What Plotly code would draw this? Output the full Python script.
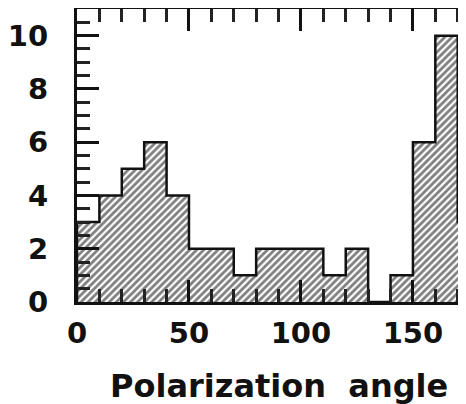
import plotly.graph_objects as go

# Data: histogram of polarization angle (deg), 10-degree bins
bin_left = [0, 10, 20, 30, 40, 50, 60, 70, 80, 90, 100, 110, 120, 130, 140, 150, 160, 170]
counts = [3, 4, 5, 6, 4, 2, 2, 1, 2, 2, 2, 1, 2, 0, 1, 6, 10, 3]
bin_width = 10
x_ticks = [0, 50, 100, 150]
y_ticks = [0, 2, 4, 6, 8, 10]
x_title = "Polarization\u00a0 angle"

W, H = 466, 404
OFF = 8                                         # page body margin offset
L, T, B, R = 77 - OFF, 9 - OFF, H - (302 - OFF), OFF
x_max_full = bin_left[-1] + bin_width          # 180, true right border (cropped)
x_vis = 173.7                                   # visible part of the axis
plot_w = W - L - R
px_per_unit = plot_w / x_vis

centers = [b + bin_width / 2 for b in bin_left]

# step outline
sx = [bin_left[0]] + bin_left + [x_max_full, x_max_full]
sy = [0] + counts + [counts[-1], 0]

fig = go.Figure()
fig.add_trace(go.Bar(
    x=centers, y=counts, width=bin_width,
    marker=dict(color="white", line=dict(width=0),
                pattern=dict(shape="/", fgcolor="black", bgcolor="white",
                             size=5, solidity=0.55)),
    showlegend=False, hoverinfo="skip",
))
fig.add_trace(go.Scatter(
    x=sx, y=sy, mode="lines", line=dict(color="#111", width=2.5, shape="hv"),
    showlegend=False, hoverinfo="skip",
))

tickfont = dict(family="DejaVu Sans", size=29, color="#111", weight="bold")

fig.update_layout(
    width=W, height=H,
    margin=dict(l=L, r=R, t=T, b=B, pad=0, autoexpand=False),
    paper_bgcolor="white", plot_bgcolor="white",
    bargap=0,
    xaxis=dict(
        range=[0, x_vis], tickmode="array", tickvals=x_ticks, ticktext=[str(v) for v in x_ticks],
        ticks="inside", ticklen=22, tickwidth=2.5, tickcolor="#111", automargin=False,
        showline=True, linewidth=3, linecolor="#111", mirror="allticks",
        showgrid=False, zeroline=False, tickfont=tickfont, ticklabelstandoff=3,
        minor=dict(dtick=10, tick0=0, ticks="inside", ticklen=13, tickwidth=2.5, tickcolor="#222"),
    ),
    yaxis=dict(
        range=[0, 11], tickmode="array", tickvals=y_ticks, ticktext=[str(v) for v in y_ticks],
        ticks="inside", ticklen=22, tickwidth=2.5, tickcolor="#111", automargin=False,
        showline=True, linewidth=3, linecolor="#111", mirror=False,
        showgrid=False, zeroline=False, tickfont=tickfont, ticklabelstandoff=20,
        minor=dict(dtick=0.5, tick0=0, ticks="inside", ticklen=13, tickwidth=2.5, tickcolor="#222"),
    ),
)

# right-hand axis ticks (axis itself lies just outside the cropped view)
tick_units = 22 / px_per_unit
for v in y_ticks:
    fig.add_shape(type="line", xref="x", yref="y", x0=x_max_full - tick_units, x1=x_max_full,
                  y0=v, y1=v, line=dict(color="#111", width=2.5))

full_center = (x_max_full / 2) / x_vis
fig.add_annotation(
    text=x_title, xref="paper", yref="paper", x=full_center, y=0,
    xanchor="center", yanchor="middle", yshift=-84, showarrow=False,
    font=dict(family="DejaVu Sans", size=32, color="#111", weight="bold"),
)

fig.write_html("out.html")
